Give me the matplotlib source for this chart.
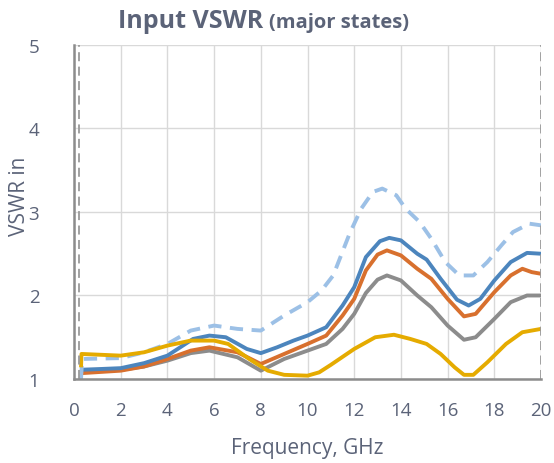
import matplotlib
matplotlib.use("Agg")
import matplotlib.pyplot as plt

plt.rcParams['font.family'] = ['Open Sans', 'DejaVu Sans']

# data (frequency in GHz, VSWR)
f_blue = [0.3, 2, 3, 4, 5.1, 5.8, 6.5, 7.4, 8, 8.7, 9.4, 10, 10.8, 11.5, 12, 12.5,
          13.1, 13.5, 14, 14.7, 15.1, 15.7, 16.4, 16.9, 17.4, 18, 18.7, 19.4, 20]
v_blue = [1.11, 1.13, 1.19, 1.28, 1.48, 1.52, 1.50, 1.36, 1.31, 1.38, 1.46, 1.52, 1.62,
          1.88, 2.10, 2.46, 2.65, 2.69, 2.66, 2.50, 2.43, 2.20, 1.95, 1.88, 1.96, 2.18,
          2.40, 2.51, 2.50]

f_orange = [0.3, 2, 3, 4, 5, 5.8, 7, 8, 9, 10, 10.8, 11.5, 12, 12.5, 13, 13.4, 14,
            14.7, 15.3, 16, 16.7, 17.2, 18, 18.7, 19.2, 19.6, 20]
v_orange = [1.07, 1.10, 1.15, 1.24, 1.34, 1.38, 1.32, 1.18, 1.30, 1.42, 1.52, 1.76,
            1.96, 2.30, 2.49, 2.54, 2.48, 2.32, 2.20, 1.96, 1.75, 1.78, 2.04, 2.24,
            2.32, 2.28, 2.26]

f_gray = [0.3, 2, 3, 4, 5, 5.8, 7, 8, 9, 10, 10.8, 11.5, 12, 12.5, 13, 13.4, 14,
          14.7, 15.3, 16, 16.7, 17.2, 18, 18.7, 19.4, 20]
v_gray = [1.11, 1.11, 1.15, 1.22, 1.31, 1.34, 1.26, 1.10, 1.24, 1.34, 1.42, 1.60,
          1.78, 2.03, 2.19, 2.24, 2.18, 2.00, 1.86, 1.64, 1.47, 1.50, 1.72, 1.92,
          2.00, 2.00]

f_yellow = [0.3, 0.32, 2, 3, 4, 5, 6, 6.6, 7.5, 8.3, 9, 10, 10.5, 11, 12, 12.9,
            13.7, 14.4, 15.1, 15.7, 16.3, 16.7, 17.1, 17.7, 18.5, 19.2, 20]
v_yellow = [1.14, 1.30, 1.28, 1.32, 1.40, 1.46, 1.46, 1.42, 1.24, 1.10, 1.05, 1.04,
            1.08, 1.17, 1.36, 1.50, 1.53, 1.48, 1.42, 1.30, 1.14, 1.05, 1.05, 1.20,
            1.42, 1.56, 1.60]

f_dash = [0.3, 0.35, 2, 3, 4, 5, 6, 7, 8, 9, 10, 10.6, 11.1, 11.8, 12.3, 12.8, 13.2,
          13.8, 14.2, 14.8, 15.3, 15.9, 16.5, 17.1, 17.7, 18.3, 18.8, 19.5, 20]
v_dash = [1.0, 1.24, 1.25, 1.32, 1.42, 1.58, 1.64, 1.60, 1.58, 1.76, 1.92, 2.06, 2.24,
          2.74, 3.04, 3.24, 3.28, 3.20, 3.04, 2.88, 2.68, 2.40, 2.24, 2.24, 2.40, 2.60,
          2.76, 2.86, 2.84]

txt = '#5b6378'

fig = plt.figure(figsize=(5.54, 4.64), dpi=100)
ax = fig.add_axes([0.1336, 0.181, 0.843, 0.72])

lw = 2.8
ax.plot(f_gray, v_gray, color='#8c8c8c', lw=lw, solid_joinstyle='round', solid_capstyle='butt')
ax.plot(f_orange, v_orange, color='#d8702e', lw=lw, solid_joinstyle='round', solid_capstyle='butt')
ax.plot(f_blue, v_blue, color='#4c85bd', lw=lw, solid_joinstyle='round', solid_capstyle='butt')
ax.plot(f_dash, v_dash, color='#9cc0e6', lw=lw, dashes=(3.4, 2.2), dash_joinstyle='round')
ax.plot(f_yellow, v_yellow, color='#e5ab00', lw=lw, solid_joinstyle='round', solid_capstyle='butt')

# dashed markers at band edges
ax.axvline(0.2, color='#9a9a9a', lw=1.3, ls=(0, (5, 3)))
ax.axvline(20, color='#9a9a9a', lw=1.3, ls=(0, (5, 3)))

ax.set_xlim(0, 20)
ax.set_ylim(1, 5)
ax.set_xticks(range(0, 21, 2))
ax.set_yticks([1, 2, 3, 4, 5])
ax.grid(True, color='#d9d9d9', lw=1)
ax.set_axisbelow(True)

for s in ['top', 'right']:
    ax.spines[s].set_visible(False)
for s in ['left', 'bottom']:
    ax.spines[s].set_color('#8c8c8c')
    ax.spines[s].set_linewidth(1.8)

ax.tick_params(length=0, labelsize=13.5, labelcolor=txt)
ax.tick_params(axis='x', pad=16)
ax.tick_params(axis='y', pad=25)

ax.set_xlabel('Frequency, GHz', fontsize=15, color=txt)
ax.xaxis.set_label_coords(0.5, -0.175)
ax.set_ylabel('VSWR in', fontsize=15, color=txt)
ax.yaxis.set_label_coords(-0.095, 0.55)

fig.text(0.213, 0.953, 'Input VSWR', fontsize=18, fontweight='bold', color=txt, va='center')
fig.text(0.486, 0.951, '(major states)', fontsize=14.5, fontweight='bold', color=txt, va='center')

fig.savefig('out.png', dpi=100)
